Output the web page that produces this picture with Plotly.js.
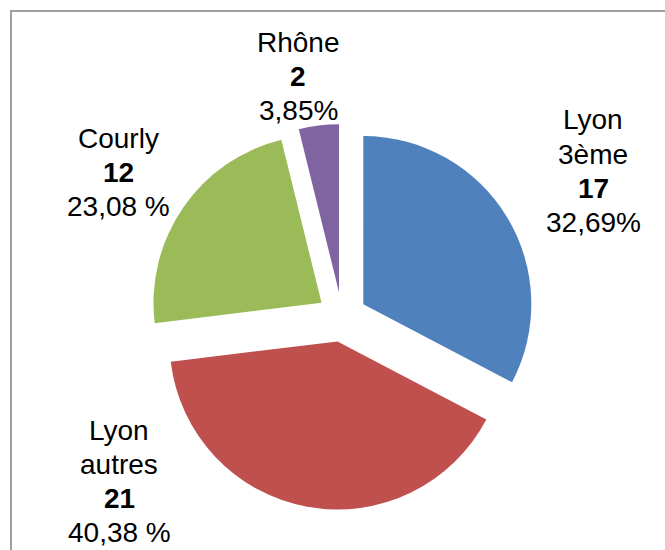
<!DOCTYPE html>
<html>
<head>
<meta charset="utf-8">
<script src="https://cdn.plot.ly/plotly-3.0.1.min.js"></script>
<style>
  html, body { margin: 0; padding: 0; background: #ffffff; }
  #chart { width: 665px; height: 550px; }
</style>
</head>
<body>
<div id="chart"></div>
<script>
// ---- data ----
const labels = ["Lyon 3ème", "Lyon autres", "Courly", "Rhône"];
const labelLines = [["Lyon", "3ème"], ["Lyon", "autres"], ["Courly"], ["Rhône"]];
const values = [17, 21, 12, 2];
const pctLabels = ["32,69%", "40,38 %", "23,08 %", "3,85%"];
const colors = ["#4F81BD", "#C0504D", "#9BBB59", "#8064A2"];

// ---- label placement (pixels: centre x, first line centre y) ----
const labelPos = [[593, 120], [119, 430], [118, 138], [298, 42]];
const lineStep = 34.3;
const W = 665, H = 550;
const font = { family: "Liberation Sans, Arial, sans-serif", size: 28, color: "#000000" };

const annotations = [];
labels.forEach((lab, i) => {
  const lines = labelLines[i].map(t => t)
    .concat(["<b>" + values[i] + "</b>", pctLabels[i]]);
  lines.forEach((t, k) => {
    annotations.push({
      xref: "paper", yref: "paper",
      x: labelPos[i][0] / W,
      y: 1 - (labelPos[i][1] + k * lineStep) / H,
      xanchor: "center", yanchor: "middle",
      text: t, showarrow: false, font: font
    });
  });
});

const trace = {
  type: "pie",
  labels: labels,
  values: values,
  sort: false,
  direction: "clockwise",
  rotation: 0,
  pull: values.map(() => 0.148),
  marker: { colors: colors, line: { width: 0 } },
  textinfo: "none",
  hoverinfo: "label+value+percent",
  showlegend: false,
  domain: { x: [149.1 / W, 534.9 / W], y: [1 - 509.9 / H, 1 - 124.1 / H] }
};

const layout = {
  width: W, height: H,
  margin: { l: 0, r: 0, t: 0, b: 0 },
  paper_bgcolor: "#ffffff",
  plot_bgcolor: "#ffffff",
  showlegend: false,
  annotations: annotations,
  shapes: [{
    type: "rect", xref: "paper", yref: "paper",
    x0: 11 / W, x1: 1.2, y0: -0.2, y1: 1 - 11 / H,
    line: { color: "#a0a0a0", width: 2 }, fillcolor: "rgba(0,0,0,0)", layer: "below"
  }]
};

Plotly.newPlot("chart", [trace], layout, { displayModeBar: false, staticPlot: true });
</script>
</body>
</html>
